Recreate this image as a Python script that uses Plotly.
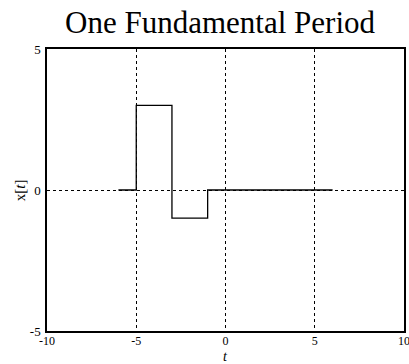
import plotly.graph_objects as go

t_vals = [-6, -5, -3, -1, 6]
x_vals = [0, 3, -1, 0, 0]
x_ticks = [-10, -5, 0, 5, 10]
y_ticks = [-5, 0, 5]

fig = go.Figure()
fig.add_trace(go.Scatter(x=t_vals, y=x_vals, mode="lines", line_shape="hv",
                         line=dict(color="black", width=1.3), showlegend=False))

font = "Liberation Serif"
fig.update_layout(
    width=409, height=364,
    margin=dict(l=47, r=5, t=49, b=33, autoexpand=False),
    paper_bgcolor="white", plot_bgcolor="white",
    font=dict(family=font, size=13, color="black"),
    title=dict(text="One Fundamental Period", x=0.538, xanchor="center",
               y=0.94, yanchor="middle", yref="container",
               font=dict(family=font, size=31, color="black")),
    annotations=[
        dict(text="<i>t</i>", x=0.5, y=-0.06, xref="paper", yref="paper",
             xanchor="center", yanchor="top", showarrow=False, borderpad=0,
             font=dict(family=font, size=14)),
        dict(text="x[<i>t</i>]", x=-0.075, y=0.5, xref="paper", yref="paper",
             xanchor="center", yanchor="middle", showarrow=False, textangle=-90,
             font=dict(family=font, size=15)),
    ],
)
fig.update_xaxes(range=[-10, 10], tickvals=x_ticks, ticktext=[str(v) for v in x_ticks],
                 showgrid=True, gridcolor="black", griddash="dot", gridwidth=0.8,
                 zeroline=False, showline=True, mirror=True, linecolor="black", linewidth=1.5,
                 ticks="", ticklabelstandoff=-2, automargin=False, ticklabeloverflow="allow",
                 tickfont=dict(size=12))
fig.update_yaxes(range=[-5, 5], tickvals=y_ticks, ticktext=[str(v) for v in y_ticks],
                 showgrid=True, gridcolor="black", griddash="dot", gridwidth=0.8,
                 zeroline=False, showline=True, mirror=True, linecolor="black", linewidth=1.5,
                 ticks="", ticklabelstandoff=2, automargin=False, ticklabeloverflow="allow")
fig.write_html("out.html", config={"displayModeBar": False},
               post_script="document.body.style.margin='0px';")
